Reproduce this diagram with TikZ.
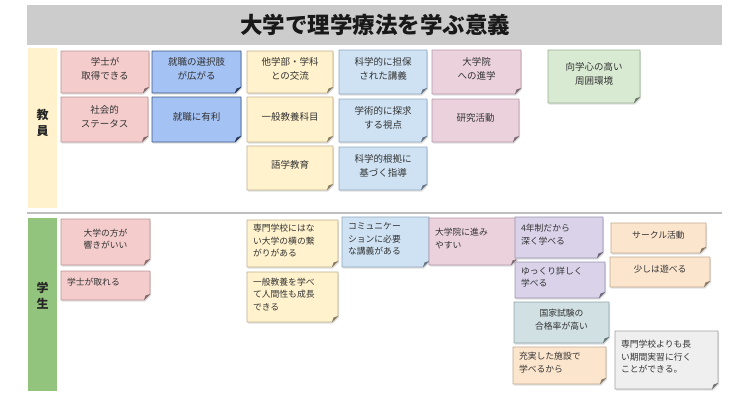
\documentclass[tikz,border=0pt]{standalone}
\usepackage{fontspec}
\setmainfont{Noto Sans CJK JP}
\definecolor{pinkF}{HTML}{F4CCCC}\definecolor{pinkD}{HTML}{B89494}
\definecolor{blueF}{HTML}{A4C2F4}\definecolor{blueD}{HTML}{3A5580}
\definecolor{yellowF}{HTML}{FFF2CC}\definecolor{yellowD}{HTML}{BDB08C}
\definecolor{lblueF}{HTML}{CFE2F3}\definecolor{lblueD}{HTML}{8FA6BC}
\definecolor{roseF}{HTML}{EAD1DC}\definecolor{roseD}{HTML}{B098A4}
\definecolor{greenF}{HTML}{D9EAD3}\definecolor{greenD}{HTML}{98AE92}
\definecolor{purpleF}{HTML}{D9D2E9}\definecolor{purpleD}{HTML}{9A92B0}
\definecolor{tealF}{HTML}{D0E0E3}\definecolor{tealD}{HTML}{8FA4A8}
\definecolor{orangeF}{HTML}{FCE5CD}\definecolor{orangeD}{HTML}{C0A88E}
\definecolor{grayF}{HTML}{EFEFEF}\definecolor{grayD}{HTML}{A0A0A0}
\definecolor{titlebar}{HTML}{CCCCCC}
\definecolor{sidegreen}{HTML}{93C47D}
\definecolor{txt}{HTML}{333333}
\tikzset{
  tnote/.style={inner sep=0pt, align=center, text=txt, font=\fontsize{9.5}{14}\selectfont},
  snote/.style={inner sep=0pt, align=center, text=txt, font=\fontsize{8.8}{12.5}\selectfont},
  slnote/.style={inner sep=0pt, align=left, text=txt, font=\fontsize{8.8}{12.5}\selectfont},
  sidelabel/.style={inner sep=0pt, align=center, text=black!85, font=\bfseries\fontsize{12}{16}\selectfont},
}
% #1 name, #2 x0, #3 y0, #4 x1, #5 y1, #6 colour prefix, #7 text style, #8 text
\newcommand\stickynote[8]{%
  \fill[black!12] ({#2+1.2},{#3+1.5}) -- ({#4+1.2},{#3+1.5}) -- ({#4+1.2},{#5-4.5}) -- ({#4-4.8},{#5+1.5}) -- ({#2+1.2},{#5+1.5}) -- cycle;
  \filldraw[fill=#6F, draw=#6D, line width=0.8pt, line join=round]
    (#2,#3) -- (#4,#3) -- (#4,{#5-6}) -- ({#4-6},#5) -- (#2,#5) -- cycle;
  \fill[#6D!70!black] (#4,{#5-6}) -- ({#4-6},#5) -- ({#4-4.5},{#5-4.5}) -- cycle;
  \pgfmathsetmacro\notewd{#4-#2-12}%
  \node[#7, text width=\notewd pt] (#1) at ({(#2+#4)/2},{(#3+#5)/2-3}) {#8};%
}
\begin{document}
\begin{tikzpicture}[x=1pt,y=-1pt]
\useasboundingbox (0,0) rectangle (750,400);
% title
\fill[titlebar] (27,5) rectangle (722,45);
\node[font=\bfseries\fontsize{22.5}{26}\selectfont, text=black!90, inner sep=0pt] (title) at (375,25) {大学で理学療法を学ぶ意義};
% side bars
\fill[yellowF] (28,48) rectangle (57,208);
\node[sidelabel] (teach) at (42.5,123) {教\\員};
\draw[black!25, line width=1.5pt] (27,213) -- (722,213);
\fill[sidegreen] (28,218) rectangle (57,391);
\node[sidelabel] (stud) at (42.5,296) {学\\生};
% teacher notes
\stickynote{t1}{61}{51}{149}{93}{pink}{tnote}{学士が\\取得できる}
\stickynote{t2}{152}{51}{241}{93}{blue}{tnote}{就職の選択肢\\が広がる}
\stickynote{t3}{247}{51}{333}{93}{yellow}{tnote}{他学部・学科\\との交流}
\stickynote{t4}{339}{50}{427}{94}{lblue}{tnote}{科学的に担保\\された講義}
\stickynote{t5}{432}{50}{521}{94}{rose}{tnote}{大学院\\への進学}
\stickynote{t6}{548}{50}{640}{103}{green}{tnote}{向学心の高い\\周囲環境}
\stickynote{t7}{61}{97}{148}{142}{pink}{tnote}{社会的\\ステータス}
\stickynote{t8}{152}{97}{241}{142}{blue}{tnote}{就職に有利}
\stickynote{t9}{247}{97}{333}{142}{yellow}{tnote}{一般教養科目}
\stickynote{t10}{339}{99}{427}{142}{lblue}{tnote}{学術的に探求\\する視点}
\stickynote{t11}{432}{99}{519}{142}{rose}{tnote}{研究活動}
\stickynote{t12}{247}{146}{333}{190}{yellow}{tnote}{語学教育}
\stickynote{t13}{339}{147}{427}{190}{lblue}{tnote}{科学的根拠に\\基づく指導}
% student notes
\stickynote{s1}{61}{219}{150}{265}{pink}{snote}{大学の方が\\響きがいい}
\stickynote{s2}{61}{271}{150}{300}{pink}{slnote}{学士が取れる}
\stickynote{s3}{247}{220}{338}{267}{yellow}{slnote}{専門学校にはな\\い大学の横の繋\\がりがある}
\stickynote{s4}{247}{272}{338}{322}{yellow}{slnote}{一般教養を学べ\\て人間性も成長\\できる}
\stickynote{s5}{342}{217}{429}{267}{lblue}{slnote}{コミュニケー\\ションに必要\\な講義がある}
\stickynote{s6}{429}{218}{517}{265}{rose}{slnote}{大学院に進み\\やすい}
\stickynote{s7}{515}{217}{603}{258}{purple}{slnote}{4年制だから\\深く学べる}
\stickynote{s8}{515}{262}{605}{298}{purple}{slnote}{ゆっくり詳しく\\学べる}
\stickynote{s9}{514}{302}{609}{343}{teal}{snote}{国家試験の\\合格率が高い}
\stickynote{s10}{513}{347}{606}{384}{orange}{slnote}{充実した施設で\\学べるから}
\stickynote{s11}{611}{223}{706}{253}{orange}{snote}{サークル活動}
\stickynote{s12}{610}{257}{710}{287}{orange}{snote}{少しは遊べる}
\stickynote{s13}{615}{331}{718}{389}{gray}{slnote}{専門学校よりも長\\い期間実習に行く\\ことができる。}
\end{tikzpicture}
\end{document}
